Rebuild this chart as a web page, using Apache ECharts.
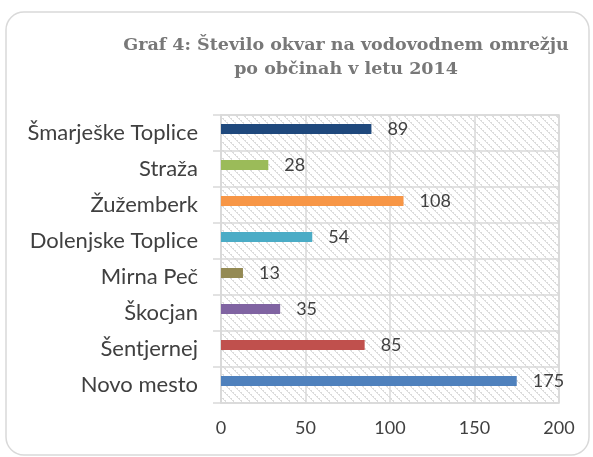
<!DOCTYPE html>
<html>
<head>
<meta charset="utf-8">
<title>Graf 4</title>
<style>
  html, body { margin: 0; padding: 0; background: #fff; }
  #container { width: 593px; height: 457px; }
</style>
</head>
<body>
<div id="container"></div>
<script src="https://cdn.jsdelivr.net/npm/echarts@6/dist/echarts.min.js"></script>
<script>
  // data, bottom to top as on the axis
  var obcine = ['Novo mesto', 'Šentjernej', 'Škocjan', 'Mirna Peč',
    'Dolenjske Toplice', 'Žužemberk', 'Straža', 'Šmarješke Toplice'];
  var okvare = [175, 85, 35, 13, 54, 108, 28, 89];
  var barve = ['#4F81BD', '#C0504D', '#8064A2', '#948A54',
    '#4BACC6', '#F79646', '#9BBB59', '#1F497D'];
  var xTicks = [0, 50, 100, 150, 200];

  // hatched background of the plot area (2px wide diagonal, 8px tile)
  var pat = document.createElement('canvas');
  pat.width = 8; pat.height = 8;
  var ctx = pat.getContext('2d');
  ctx.fillStyle = '#fff';
  ctx.fillRect(0, 0, 8, 8);
  ctx.fillStyle = '#dcdcdc';
  for (var py = 0; py < 8; py++) {
    for (var px = 0; px < 8; px++) {
      var d = ((px - py) % 8 + 8) % 8;
      if (d === 0 || (d === 1 && py % 2 === 0)) ctx.fillRect(px, py, 1, 1);
    }
  }

  var chart = echarts.init(document.getElementById('container'));
  var txt = '#404040';
  var labelFont = 'Lato, "Liberation Sans", sans-serif';

  var option = {
    backgroundColor: '#fff',
    animation: false,
    graphic: [{
      type: 'rect',
      shape: { x: 6, y: 12, width: 583, height: 443, r: 18 },
      style: { fill: 'none', stroke: '#d9d9d9', lineWidth: 1.5 },
      z: -1
    }],
    title: {
      text: 'Graf 4: Število okvar na vodovodnem omrežju\npo občinah v letu 2014',
      left: 341,
      top: 28,
      textAlign: 'center',
      textStyle: {
        fontFamily: '"DejaVu Serif", "Liberation Serif", serif',
        fontWeight: 'bold',
        fontSize: 17.5,
        lineHeight: 24,
        color: '#787878'
      }
    },
    grid: {
      left: 221, right: 34, top: 115, bottom: 54,
      show: true,
      backgroundColor: { image: pat, repeat: 'repeat' },
      borderColor: '#d9d9d9',
      borderWidth: 1.5
    },
    xAxis: {
      type: 'value',
      min: xTicks[0],
      max: xTicks[xTicks.length - 1],
      interval: 50,
      axisLine: { show: false },
      axisTick: { show: false },
      splitLine: { lineStyle: { color: '#d9d9d9', width: 1.5 } },
      axisLabel: { color: txt, fontSize: 18, fontFamily: labelFont, margin: 16 }
    },
    yAxis: {
      type: 'category',
      data: obcine,
      axisLine: { lineStyle: { color: '#d9d9d9', width: 1.5 } },
      axisTick: { show: true, length: 8, lineStyle: { color: '#d9d9d9', width: 1.5 } },
      splitLine: { show: true, lineStyle: { color: '#d9d9d9', width: 1.5 } },
      axisLabel: { color: txt, fontSize: 22, fontFamily: labelFont, margin: 23 }
    },
    series: [{
      type: 'bar',
      data: okvare.map(function (v, i) {
        return { value: v, itemStyle: { color: barve[i] } };
      }),
      barWidth: 10,
      barGap: '0%',
      label: {
        show: true,
        position: 'right',
        distance: 16,
        color: txt,
        fontSize: 18,
        fontFamily: labelFont
      }
    }, {
      // empty companion series, nudges the bars slightly above band centre
      type: 'bar',
      data: obcine.map(function () { return '-'; }),
      barWidth: 8,
      silent: true
    }]
  };
  chart.setOption(option);
</script>
</body>
</html>
